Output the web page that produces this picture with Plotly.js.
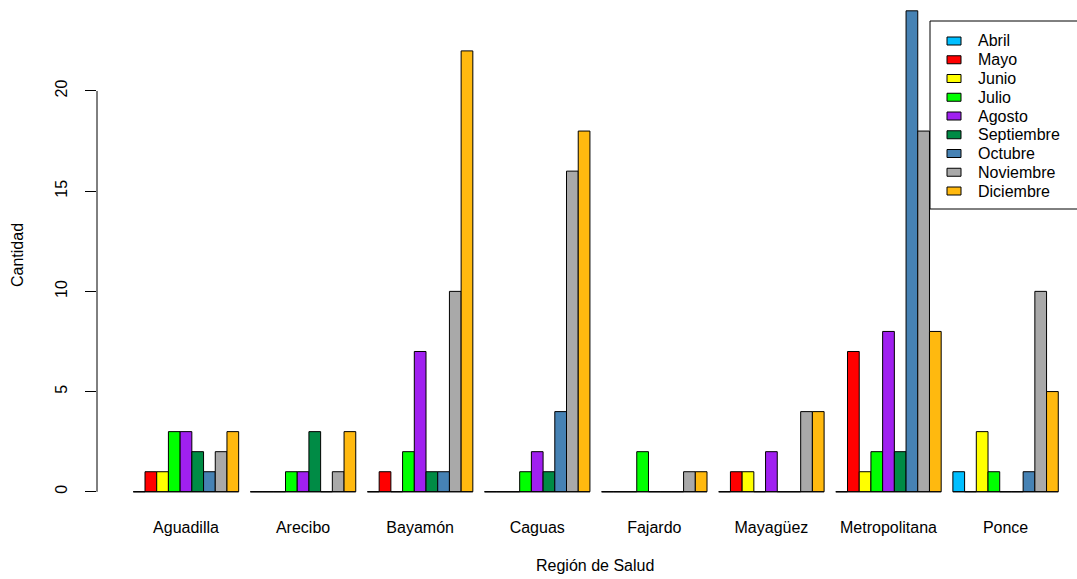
<!DOCTYPE html>
<html>
<head>
<meta charset="utf-8">
<script src="https://cdn.plot.ly/plotly-3.0.1.min.js"></script>
<style>html,body{margin:0;padding:0;background:#fff;}#chart{width:1077px;height:579px;}</style>
</head>
<body>
<div id="chart"></div>
<script>
const regions = ["Aguadilla","Arecibo","Bayamón","Caguas","Fajardo","Mayagüez","Metropolitana","Ponce"];
const months = ["Abril","Mayo","Junio","Julio","Agosto","Septiembre","Octubre","Noviembre","Diciembre"];
const abril      = [0,0,0,0,0,0,0,1];
const mayo       = [1,0,1,0,0,1,7,0];
const junio      = [1,0,0,0,0,1,1,3];
const julio      = [3,1,2,1,2,0,2,1];
const agosto     = [3,1,7,2,0,2,8,0];
const septiembre = [2,3,1,1,0,0,2,0];
const octubre    = [1,0,1,4,0,0,24,1];
const noviembre  = [2,1,10,16,1,4,18,10];
const diciembre  = [3,3,22,18,1,4,8,5];
const yTicks = [0,5,10,15,20];

const series = [abril,mayo,junio,julio,agosto,septiembre,octubre,noviembre,diciembre];
const colors = ["#00BFFF","#FF0000","#FFFF00","#00FF00","#A020F0","#008B45","#4682B4","#A9A9A9","#FFB90F"];
const FONT = "Liberation Sans, Arial, sans-serif";

// plot-area geometry (pixels) used to place the hand-drawn legend
const ML = 97, PW = 980, PH = 511;
const px = v => (v - ML) / PW;
const py = v => 1 - v / PH;

const traces = series.map((vals, k) => ({
  type: "bar",
  name: months[k],
  x: regions,
  y: vals,
  marker: {color: colors[k], line: {color: "#000", width: 1}},
  hoverinfo: "x+y+name"
}));

const shapes = regions.map((r, i) => ({
  type: "line", xref: "x", yref: "y",
  x0: i - 0.45, x1: i + 0.45, y0: 0, y1: 0,
  line: {color: "#000", width: 1}
}));
shapes.push({
  type: "line", xref: "paper", yref: "y",
  x0: 0, x1: 0, y0: yTicks[0], y1: yTicks[yTicks.length-1],
  line: {color: "#000", width: 1}
});

// legend box
shapes.push({
  type: "rect", xref: "paper", yref: "paper",
  x0: px(930), x1: px(1082), y0: py(209), y1: py(21),
  fillcolor: "#fff", line: {color: "#000", width: 1}, layer: "above"
});
const annotations = [];
months.forEach((m, k) => {
  const cy = 41 + k * 18.75;
  shapes.push({
    type: "rect", xref: "paper", yref: "paper",
    x0: px(947), x1: px(961), y0: py(cy + 4), y1: py(cy - 4),
    fillcolor: colors[k], line: {color: "#000", width: 1}, layer: "above"
  });
  annotations.push({
    text: m, xref: "paper", yref: "paper", x: px(976), y: py(cy),
    xanchor: "left", yanchor: "middle", showarrow: false,
    font: {family: FONT, size: 16, color: "#000"}
  });
});

annotations.push(
  {text: "Región de Salud", xref: "paper", yref: "paper", x: 0.508, y: -0.1057,
   xanchor: "center", yanchor: "middle", showarrow: false,
   font: {family: FONT, size: 16, color: "#000"}},
  {text: "Cantidad", xref: "paper", yref: "paper", x: -0.0806, y: 0.501,
   xanchor: "center", yanchor: "middle", showarrow: false, textangle: -90,
   font: {family: FONT, size: 16, color: "#000"}}
);

const layout = {
  width: 1077, height: 579,
  margin: {l: ML, r: 0, t: 0, b: 68, pad: 0},
  paper_bgcolor: "#fff", plot_bgcolor: "#fff",
  font: {family: FONT, size: 16, color: "#000"},
  barmode: "group", bargap: 0.1, bargroupgap: 0,
  showlegend: false,
  xaxis: {
    type: "category", range: [-0.76, 7.61],
    showline: false, showgrid: false, zeroline: false,
    ticks: "outside", ticklen: 2, tickcolor: "rgba(0,0,0,0)",
    tickfont: {family: FONT, size: 16, color: "#000"}
  },
  yaxis: {
    range: [-0.96, 24.54],
    tickvals: yTicks, ticktext: yTicks.map(String),
    showline: false, showgrid: false, zeroline: false,
    ticks: "outside", ticklen: 11, tickcolor: "#000", tickwidth: 1,
    tickangle: -90, ticklabelstandoff: 12,
    tickfont: {family: FONT, size: 16, color: "#000"}
  },
  shapes: shapes,
  annotations: annotations
};

Plotly.newPlot("chart", traces, layout, {displayModeBar: false, staticPlot: true});
</script>
</body>
</html>
